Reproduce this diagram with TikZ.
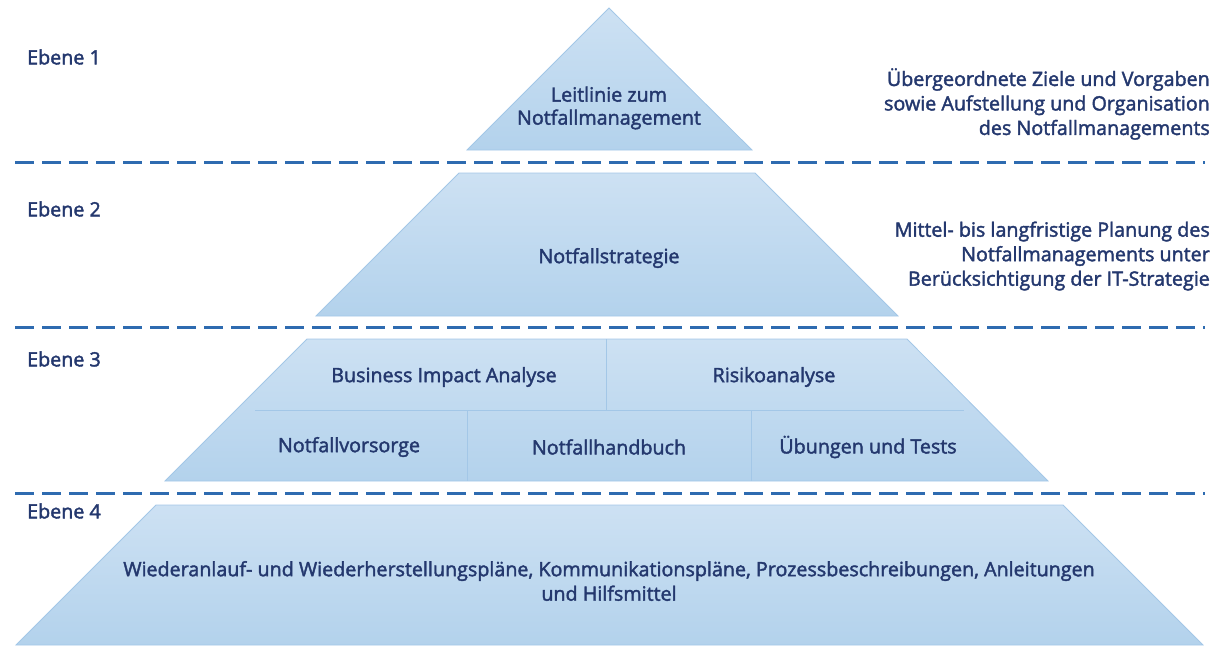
\documentclass[tikz,border=0pt]{standalone}
\usepackage{fontspec}
\setmainfont{Open Sans}[FakeBold=2]
\begin{document}
\definecolor{txt}{HTML}{24386E}
\definecolor{dashc}{HTML}{2E6BB0}
\definecolor{filltop}{HTML}{CDE1F3}
\definecolor{fillbot}{HTML}{B3D2EC}
\definecolor{edgec}{HTML}{A3C7E7}
\begin{tikzpicture}[x=1pt,y=-1pt,
  every node/.style={text=txt,font=\fontsize{19.7}{24.5}\selectfont,inner sep=0pt},
  layer/.style={top color=filltop,bottom color=fillbot,draw=edgec,line width=0.8pt},
  divider/.style={draw=dashc,line width=3pt,dash pattern=on 19pt off 8pt},
  cellline/.style={draw=edgec,line width=0.8pt},
  lvl/.style={anchor=west},
  desc/.style={anchor=east,align=right}]
\useasboundingbox (0,0) rectangle (1212,645);

% pyramid layers
\shade[layer] (609,8) -- (752,150) -- (467,150) -- cycle;
\shade[layer] (459,173) -- (755,173) -- (898,316) -- (316,316) -- cycle;
\shade[layer] (307,339) -- (907,339) -- (1048,481) -- (165,481) -- cycle;
\shade[layer] (156,505) -- (1063,505) -- (1203,645) -- (16,645) -- cycle;

% cell borders inside level 3
\coordinate (h1) at (255,410);
\coordinate (h2) at (964,410);
\coordinate (v1t) at (606,339);
\coordinate (v1b) at (606,410);
\coordinate (v2t) at (467,410);
\coordinate (v2b) at (467,481);
\coordinate (v3t) at (751,410);
\coordinate (v3b) at (751,481);
\draw[cellline] (h1) -- (h2);
\draw[cellline] (v1t) -- (v1b);
\draw[cellline] (v2t) -- (v2b);
\draw[cellline] (v3t) -- (v3b);

% dashed separators between levels
\coordinate (d1a) at (15,162);  \coordinate (d1b) at (1205,162);
\coordinate (d2a) at (15,327);  \coordinate (d2b) at (1205,327);
\coordinate (d3a) at (15,493);  \coordinate (d3b) at (1205,493);
\draw[divider] (d1a) -- (d1b);
\draw[divider] (d2a) -- (d2b);
\draw[divider] (d3a) -- (d3b);

% level labels
\node[lvl] (e1) at (27,57) {Ebene 1};
\node[lvl] (e2) at (27,209) {Ebene 2};
\node[lvl] (e3) at (27,359) {Ebene 3};
\node[lvl] (e4) at (27,511) {Ebene 4};

% texts inside the pyramid
\node[align=center,font=\fontsize{19.7}{23}\selectfont] (leit) at (609,108) {Leitlinie zum\\Notfallmanagement};
\node (strat) at (609,258) {Notfallstrategie};
\node (bia) at (444,377) {Business Impact Analyse};
\node (risk) at (774,377) {Risikoanalyse};
\node (vors) at (349,447) {Notfallvorsorge};
\node (hand) at (609,447) {Notfallhandbuch};
\node (test) at (868,447) {Übungen und Tests};
\node[align=center] (plans) at (609,581) {Wiederanlauf- und Wiederherstellungspläne, Kommunikationspläne, Prozessbeschreibungen, Anleitungen\\und Hilfsmittel};

% descriptions on the right
\node[desc] (d1) at (1210,104) {Übergeordnete Ziele und Vorgaben\\sowie Aufstellung und Organisation\\des Notfallmanagements};
\node[desc] (d2) at (1210,256) {Mittel- bis langfristige Planung des\\Notfallmanagements unter\\Berücksichtigung der IT-Strategie};
\end{tikzpicture}
\end{document}
